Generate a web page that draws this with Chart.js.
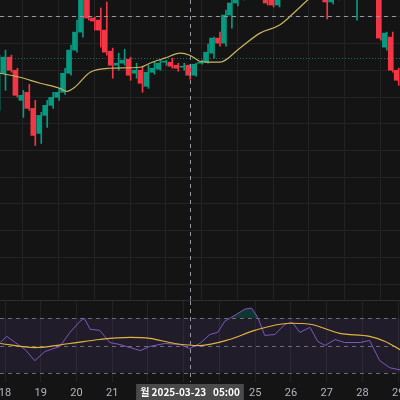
<!DOCTYPE html>
<html lang="ko">
<head>
<meta charset="UTF-8">
<title>캔들 차트</title>
<style>
  html, body { margin: 0; padding: 0; background: #141414; overflow: hidden; }
  canvas { position: absolute; left: 0; }
  #main { top: 0; }
  #rsi { top: 301px; }
</style>
</head>
<body>
<canvas id="main" width="400" height="301"></canvas>
<canvas id="rsi" width="400" height="99"></canvas>
<script src="https://cdn.jsdelivr.net/npm/chart.js"></script>
<script>
// 4시간봉, 인덱스 0 = 18일 00:00
const candleIdx = [];
for (let i = -1; i <= 66; i++) candleIdx.push(i);
const opens  = [218,227,243,230,200,208,192,167,185,195,203,208,227,250,268,310,282,280,270,249,235,237,241,227,230,214,228,231,238,238,235,233,235,225,237,238,247,262,257,285,297,302,315,330,320,305,300,295,305,315,325,318,330,320,312,310,298,302,312,320,302,315,325,318,322,253,263,230];
const highs  = [245,250,245,232,210,216,200,188,200,208,212,232,255,280,315,315,283,292,298,252,247,251,243,237,234,235,238,240,240,242,237,237,236,237,240,256,263,268,290,300,308,320,335,332,328,315,310,310,320,328,328,334,332,325,320,315,308,314,322,322,320,328,328,324,330,268,268,232];
const lows   = [190,210,228,203,183,190,155,157,173,192,200,206,225,248,263,280,270,253,245,222,230,235,220,222,208,212,226,230,235,232,229,230,221,224,236,237,242,254,254,272,294,300,310,318,316,295,293,293,302,312,315,316,318,306,306,281,296,300,310,308,280,312,316,316,260,250,228,215];
const closes = [238,243,230,205,205,192,165,185,195,203,208,227,250,268,310,282,279,270,248,235,237,240,225,230,217,228,232,237,238.5,234,232,233.5,225,236,238,248,262,257,285,297,302,315,330,320,325,297,295,305,315,325,318,330,320,312,318,298,302,312,320,310,315,325,318,322,262,267,230,220];

const maIdx = [-0.84,2.5,5.9,9.2,10.4,11.7,14.3,17.6,22.7,24.3,26.8,29.4,31,32.7,34.4,36.1,39.4,42.8,46.1,49,51.2,54.5];
const maVal = [227,223,217,212,209,213,228,232,233,237,242,247,245,239,238,238,252,267,275,290,302,315];

const rsiIdx = [-0.8,0.3,1.7,3.4,5,6.7,9.2,10.9,12.6,13.3,14.3,15.9,17.6,19.3,21,22.7,24.3,26.8,29.4,31,32.7,34.4,35.7,36.9,38.6,40.3,41.4,42.4,43.6,45.3,47,48.2,49.5,51.2,52.5,53.7,55.4,57,59.6,61.2,62.9,64.6,66.3];
const rsiVal = [52.2,56.7,52.2,47,38.9,45.6,49.3,59.6,67.8,70,61.9,61.1,52.2,50.7,48.5,46.3,49.3,51.5,50.7,47.8,51.5,58.1,59.6,67.8,72.2,76.7,77.4,70.7,57.4,58.1,65.6,67,59.6,63.3,53,50,54.4,52.2,52.2,53.7,38.9,33.7,32.2];
const rsiMaIdx = [-0.8,5,10.9,15.9,21,24.3,28.5,32.7,37.7,41.9,47.8,51.2,56.2,61.2,63.8,66.3];
const rsiMaVal = [51.5,48.5,51.5,54.4,55.9,55.2,51.5,50,54.4,61.1,66.3,65.6,58.9,56.7,53,47];

const dayLabels = ['18','19','20','21','22','23','24','25','26','27','28','29'];
const gridPrices = [16,43,70,97,123,150,177,203,230,257,284];
const rsiLevels = [70, 50, 30];
const lastPrice = 242;
const crossPrice = 284;
const crossIdx = 31.05;
const crossLabel = '월 2025-03-23   05:00';

const UP = '#089981', DOWN = '#f23645', GRID = '#232323';
const xMin = -0.84, xMax = 66.3;
const dayTicks = dayLabels.map((d, k) => ({ value: k * 6 }));

const wickData = candleIdx.map((x, i) => ({ x, y: [lows[i], highs[i]] }));
const bodyData = candleIdx.map((x, i) => ({ x, y: [opens[i], closes[i]] }));
const candleColors = candleIdx.map((x, i) => closes[i] >= opens[i] ? UP : DOWN);

function dashedH(ctx, area, y, color, dash) {
  ctx.save();
  ctx.strokeStyle = color; ctx.lineWidth = 1; ctx.setLineDash(dash);
  ctx.beginPath(); ctx.moveTo(area.left, Math.round(y) + 0.5); ctx.lineTo(area.right, Math.round(y) + 0.5); ctx.stroke();
  ctx.restore();
}
function dashedV(chart, bottom) {
  const ctx = chart.ctx, x = Math.round(chart.scales.x.getPixelForValue(crossIdx)) + 0.5;
  ctx.save();
  ctx.strokeStyle = '#9598a1'; ctx.lineWidth = 1; ctx.setLineDash([4, 4]);
  ctx.beginPath(); ctx.moveTo(x, chart.chartArea.top); ctx.lineTo(x, bottom); ctx.stroke();
  ctx.restore();
}

const mainOverlay = {
  id: 'mainOverlay',
  beforeDatasetsDraw(chart) {
    const y = chart.scales.y, a = chart.chartArea;
    dashedH(chart.ctx, a, y.getPixelForValue(lastPrice), 'rgba(8,153,129,0.7)', [1, 2]);
  },
  afterDraw(chart) {
    const y = chart.scales.y, a = chart.chartArea;
    dashedH(chart.ctx, a, y.getPixelForValue(crossPrice), '#9598a1', [4, 4]);
    dashedV(chart, a.bottom);
    const ctx = chart.ctx;
    ctx.save(); ctx.strokeStyle = '#2e2e2e'; ctx.beginPath();
    ctx.moveTo(0, 300.5); ctx.lineTo(400, 300.5); ctx.stroke(); ctx.restore();
  }
};

new Chart(document.getElementById('main'), {
  type: 'bar',
  data: {
    datasets: [
      { type: 'line', data: maIdx.map((x, i) => ({ x, y: maVal[i] })), borderColor: '#c8b560', borderWidth: 1.2, pointRadius: 0, cubicInterpolationMode: 'monotone', order: 0 },
      { data: bodyData, backgroundColor: candleColors, barThickness: 4, minBarLength: 1, order: 1 },
      { data: wickData, backgroundColor: candleColors, barThickness: 1, order: 2 }
    ]
  },
  options: {
    responsive: false, animation: false,
    layout: { padding: 0 },
    plugins: { legend: { display: false }, tooltip: { enabled: false } },
    scales: {
      x: { type: 'linear', min: xMin, max: xMax, grouped: false, offset: false,
           afterBuildTicks: s => { s.ticks = dayTicks; },
           ticks: { display: false }, border: { display: false },
           grid: { color: GRID, drawTicks: false },
           afterFit: s => { s.height = 0; } },
      y: { min: 0, max: 300,
           afterBuildTicks: s => { s.ticks = gridPrices.map(v => ({ value: v })); },
           ticks: { display: false }, border: { display: false },
           grid: { color: GRID, drawTicks: false },
           afterFit: s => { s.width = 0; } }
    }
  },
  plugins: [mainOverlay]
});

const rsiOverlay = {
  id: 'rsiOverlay',
  beforeDatasetsDraw(chart) {
    const y = chart.scales.y, a = chart.chartArea, ctx = chart.ctx;
    const t = y.getPixelForValue(rsiLevels[0]), b = y.getPixelForValue(rsiLevels[2]);
    ctx.save(); ctx.fillStyle = 'rgba(126,87,194,0.12)';
    ctx.fillRect(a.left, t, a.right - a.left, b - t); ctx.restore();
    rsiLevels.forEach(v => dashedH(ctx, a, y.getPixelForValue(v), '#6a6d78', [4, 4]));
  },
  afterDraw(chart) {
    const ctx = chart.ctx, xs = chart.scales.x, a = chart.chartArea;
    dashedV(chart, a.bottom);
    ctx.save();
    ctx.font = '11px Roboto, "DejaVu Sans", sans-serif';
    ctx.fillStyle = '#b2b5be'; ctx.textAlign = 'center'; ctx.textBaseline = 'middle';
    dayTicks.forEach((t, k) => ctx.fillText(dayLabels[k], xs.getPixelForValue(t.value), 92));
    const x = xs.getPixelForValue(crossIdx);
    ctx.font = 'bold 10px "Noto Sans CJK KR", "DejaVu Sans", sans-serif';
    const w = ctx.measureText(crossLabel).width + 8;
    ctx.fillStyle = '#4a4a4a';
    ctx.fillRect(x - w / 2, 83, w, 16);
    ctx.fillStyle = '#ffffff';
    ctx.fillText(crossLabel, x, 91.5);
    ctx.restore();
  }
};

new Chart(document.getElementById('rsi'), {
  type: 'line',
  data: {
    datasets: [
      { data: rsiMaIdx.map((x, i) => ({ x, y: rsiMaVal[i] })), borderColor: '#e3b341', borderWidth: 1.2, pointRadius: 0, cubicInterpolationMode: 'monotone' },
      { data: rsiIdx.map((x, i) => ({ x, y: rsiVal[i] })), borderColor: '#7e57c2', borderWidth: 1, pointRadius: 0, tension: 0,
        fill: { target: { value: 70 }, above: 'rgba(8,153,129,0.25)', below: 'rgba(0,0,0,0)' } }
    ]
  },
  options: {
    responsive: false, animation: false,
    layout: { padding: { bottom: 18 } },
    plugins: { legend: { display: false }, tooltip: { enabled: false } },
    scales: {
      x: { type: 'linear', min: xMin, max: xMax,
           afterBuildTicks: s => { s.ticks = dayTicks; },
           ticks: { display: false }, border: { display: false },
           grid: { color: GRID, drawTicks: false },
           afterFit: s => { s.height = 0; } },
      y: { min: 23.3, max: 82.6,
           ticks: { display: false }, border: { display: false },
           grid: { display: false },
           afterFit: s => { s.width = 0; } }
    }
  },
  plugins: [rsiOverlay]
});
</script>
</body>
</html>
